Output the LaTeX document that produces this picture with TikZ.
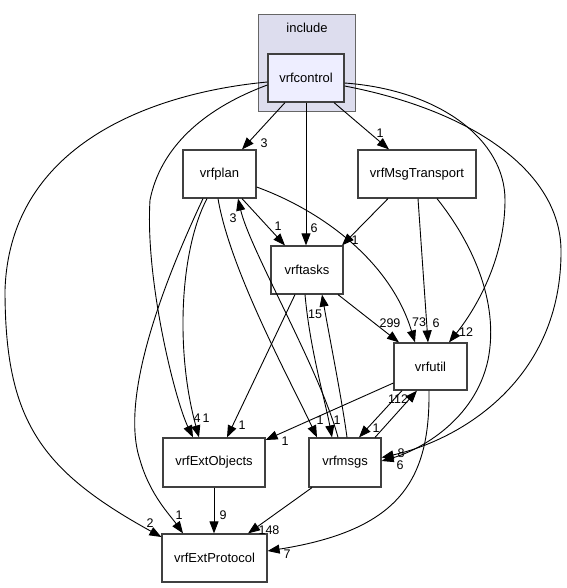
\documentclass[tikz,border=0pt]{standalone}
\usepackage{fontspec}
\setmainfont{Liberation Sans}
\usetikzlibrary{arrows.meta}
\definecolor{clusterfill}{HTML}{DDDDEE}
\definecolor{clusterdraw}{HTML}{666666}
\definecolor{mainfill}{HTML}{EEEEFF}
\definecolor{nodedraw}{HTML}{404040}
\tikzset{
  dirbox/.style={draw=nodedraw, line width=1.2bp, fill=white, minimum height=48bp, inner sep=0pt,
    font=\fontsize{13bp}{15bp}\selectfont},
  mainbox/.style={dirbox, fill=mainfill},
  edge/.style={draw=black, line width=0.9bp, -{Triangle[length=12bp,width=9bp]}},
  elabel/.style={inner sep=0pt, font=\fontsize{12.5bp}{14bp}\selectfont},
}
\begin{document}
\begin{tikzpicture}[x=1bp,y=-1bp]
\useasboundingbox (0,0) rectangle (567,588);
% cluster
\node[draw=clusterdraw, line width=1bp, fill=clusterfill, minimum width=97bp, minimum height=97bp, inner sep=0pt] (cluster) at (306.5,63.5) {};
\node[inner sep=0pt, font=\fontsize{13bp}{15bp}\selectfont] (clusterlabel) at (307,28) {include};
% nodes
\node[mainbox, minimum width=76bp] (vrfcontrol) at (306,78) {vrfcontrol};
\node[dirbox, minimum width=73bp] (vrfplan) at (219.5,174) {vrfplan};
\node[dirbox, minimum width=118bp] (vrfMsgTransport) at (417,174) {vrfMsgTransport};
\node[dirbox, minimum width=72bp] (vrftasks) at (307,270) {vrftasks};
\node[dirbox, minimum width=73bp, minimum height=47bp] (vrfutil) at (430.5,366.5) {vrfutil};
\node[dirbox, minimum width=102bp, minimum height=49bp] (vrfExtObjects) at (214,462.5) {vrfExtObjects};
\node[dirbox, minimum width=72bp, minimum height=49bp] (vrfmsgs) at (345,462.5) {vrfmsgs};
\node[dirbox, minimum width=105bp] (vrfExtProtocol) at (214.5,558) {vrfExtProtocol};

% edges from vrfcontrol
\draw[edge] ([xshift=-21bp]vrfcontrol.south) -- ([xshift=22.5bp]vrfplan.north);
\node[elabel] (l1) at (264,143) {3};
\draw[edge] (vrfcontrol.south) -- ([xshift=-1bp]vrftasks.north);
\node[elabel] (l2) at (314,228) {6};
\draw[edge] ([xshift=28bp]vrfcontrol.south) -- ([xshift=-28bp]vrfMsgTransport.north);
\node[elabel] (l3) at (380,133) {1};
\draw[edge] ([yshift=-5bp]vrfcontrol.east) .. controls (440,90) and (505,140) .. (505,200)
  .. controls (505,260) and (475,310) .. ([xshift=18.5bp]vrfutil.north);
\node[elabel] (l4) at (466,332) {12};
\draw[edge] ([yshift=-8bp]vrfcontrol.east) .. controls (470,110) and (560,170) .. (561,250)
  .. controls (562,380) and (460,440) .. ([yshift=5bp]vrfmsgs.east);
\node[elabel] (l5) at (401,453) {8};
\draw[edge] ([yshift=-7bp]vrfcontrol.west) .. controls (200,110) and (160,150) .. (150,200)
  .. controls (145,280) and (175,400) .. ([xshift=-21bp]vrfExtObjects.north);
\node[elabel] (l6) at (197,418) {4};
\draw[edge] ([yshift=-4bp]vrfcontrol.west) .. controls (160,92) and (10,140) .. (5,290)
  .. controls (5,420) and (40,470) .. ([yshift=21bp]vrfExtProtocol.west);
\node[elabel] (l7) at (150,523) {2};

% edges from vrfplan
\draw[edge] ([xshift=22.5bp]vrfplan.south) -- ([xshift=-22bp]vrftasks.north);
\node[elabel] (l8) at (278,226) {1};
\draw[edge] ([yshift=-13bp]vrfplan.east) .. controls (320,210) and (390,260) .. ([xshift=-15.5bp]vrfutil.north);
\node[elabel] (l9) at (419,322) {73};
\draw[edge] ([xshift=-12.5bp]vrfplan.south) .. controls (180,250) and (175,350) .. ([xshift=-15bp]vrfExtObjects.north);
\node[elabel] (l10) at (206,418) {1};
\draw[edge] ([xshift=-16.5bp]vrfplan.south) .. controls (160,290) and (120,400) .. (140,460)
  .. controls (150,495) and (170,515) .. ([xshift=-31.5bp]vrfExtProtocol.north);
\node[elabel] (l11) at (179,515) {1};
\draw[edge] ([xshift=-1.5bp]vrfplan.south) .. controls (230,270) and (290,380) .. ([xshift=-28bp]vrfmsgs.north);
\node[elabel] (l12) at (320,420) {1};

% edges from vrfMsgTransport
\draw[edge] ([xshift=-29bp]vrfMsgTransport.south) -- ([xshift=35bp]vrftasks.north);
\node[elabel] (l13) at (355,240) {1};
\draw[edge] ([xshift=1bp]vrfMsgTransport.south) -- ([xshift=-2.5bp]vrfutil.north);
\node[elabel] (l14) at (436,323) {6};
\draw[edge] ([xshift=20bp]vrfMsgTransport.south) .. controls (470,240) and (500,300) .. (488,360)
  .. controls (475,420) and (420,450) .. ([yshift=1.5bp]vrfmsgs.east);
\node[elabel] (l15) at (400,465) {6};

% edges from vrftasks
\draw[edge] ([xshift=31bp]vrftasks.south) -- ([xshift=-31.5bp]vrfutil.north);
\node[elabel] (l16) at (390,323) {299};
\draw[edge] ([xshift=-12bp]vrftasks.south) -- ([xshift=13bp]vrfExtObjects.north);
\node[elabel] (l17) at (242,425) {1};
\draw[edge] ([xshift=-2bp]vrftasks.south) .. controls (310,350) and (325,400) .. ([xshift=-13bp]vrfmsgs.north);
\node[elabel] (l18) at (337,420) {1};

% edges from vrfmsgs
\draw[edge] ([xshift=2bp]vrfmsgs.north) .. controls (342,400) and (330,340) .. ([xshift=15bp]vrftasks.south);
\node[elabel] (l19) at (315,314) {15};
\draw[edge] ([xshift=-7bp]vrfmsgs.north) .. controls (320,370) and (250,250) .. ([xshift=18.5bp]vrfplan.south);
\node[elabel] (l20) at (233,218) {3};
\draw[edge] ([xshift=30bp]vrfmsgs.north) -- ([xshift=-13.5bp]vrfutil.south);
\node[elabel] (l21) at (398,399) {112};
\draw[edge] ([xshift=-33bp]vrfmsgs.south) -- ([xshift=33.5bp]vrfExtProtocol.north);
\node[elabel] (l22) at (269,530) {148};

% edges from vrfutil
\draw[edge] ([yshift=-16.5bp]vrfutil.west) -- ([yshift=22.5bp]vrfExtObjects.east);
\node[elabel] (l23) at (285,441) {1};
\draw[edge] ([xshift=-28.5bp]vrfutil.south) -- ([xshift=14bp]vrfmsgs.north);
\node[elabel] (l24) at (376,428) {1};
\draw[edge] ([xshift=-1.5bp]vrfutil.south) .. controls (430,480) and (400,530) .. ([yshift=7bp]vrfExtProtocol.east);
\node[elabel] (l25) at (287,554) {7};

% vrfExtObjects -> vrfExtProtocol
\draw[edge] (vrfExtObjects.south) -- ([xshift=-0.5bp]vrfExtProtocol.north);
\node[elabel] (l26) at (223,515) {9};
\end{tikzpicture}
\end{document}
